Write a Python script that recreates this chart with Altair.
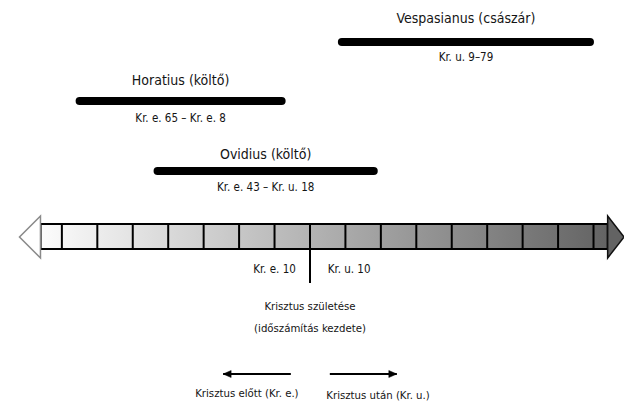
import altair as alt
import pandas as pd

# ---- data ----
people = ["Vespasianus (császár)", "Horatius (költő)", "Ovidius (költő)"]
starts = [9, -65, -43]
ends = [79, -8, 18]
date_labels = ["Kr. u. 9–79", "Kr. e. 65 – Kr. e. 8", "Kr. e. 43 – Kr. u. 18"]

axis_start = -76
axis_end = 84
arrow_tip_left = -82
arrow_tip_right = 88.6
cell_edges = list(range(-70, 81, 10))

center_labels = ["Kr. e. 10", "Kr. u. 10"]
birth_lines = ["Krisztus születése", "(időszámítás kezdete)"]
direction_labels = ["Krisztus előtt (Kr. e.)", "Krisztus után (Kr. u.)"]
direction_from = [-5.4, 5.6]
direction_to = [-24.5, 24.5]

# ---- layout (rows, in pixels from the top) ----
person_rows = [42, 101, 171]
name_rows = [19, 81, 155]
date_rows = [58, 119, 188]
bar_top, bar_bottom = 224, 249

FONT = "DejaVu Sans Condensed, Liberation Sans, Arial"
TXT = "#141414"

X = alt.Scale(domain=[-85.2, 88.6], nice=False, zero=False)
Y = alt.Scale(domain=[8, 407], reverse=True, nice=False, zero=False)


def xe(field, **kw):
    return alt.X(field, type="quantitative", scale=X, axis=None, **kw)


def ye(field, **kw):
    return alt.Y(field, type="quantitative", scale=Y, axis=None, **kw)


gradient = alt.Gradient(
    gradient="linear",
    stops=[alt.GradientStop(color="#fcfcfc", offset=0),
           alt.GradientStop(color="#636363", offset=1)],
    x1=0, x2=1, y1=0, y2=0,
)

band_df = pd.DataFrame({"a": [axis_start], "b": [axis_end], "t": [bar_top], "u": [bar_bottom]})
band = alt.Chart(band_df).mark_rect(color=gradient, stroke="black", strokeWidth=2).encode(
    x=xe("a"), x2="b", y=ye("t"), y2="u")

cells_df = pd.DataFrame({"x": cell_edges, "t": bar_top, "u": bar_bottom})
cells = alt.Chart(cells_df).mark_rule(color="black", strokeWidth=2).encode(
    x=xe("x"), y=ye("t"), y2="u")

# arrowheads of the time axis
mid_y = (bar_top + bar_bottom) / 2 + 0.5
left_head_df = pd.DataFrame({"x": [(arrow_tip_left + axis_start) / 2], "y": [mid_y]})
left_head = alt.Chart(left_head_df).mark_point(
    shape="M0.5,-1L-0.5,0L0.5,1Z", size=1764, filled=True, fill="white",
    stroke="#8a8a8a", strokeWidth=1.5, opacity=1, fillOpacity=1, strokeOpacity=1
).encode(x=xe("x"), y=ye("y"))

right_head_df = pd.DataFrame({"x": [(arrow_tip_right + axis_end) / 2], "y": [mid_y]})
right_head = alt.Chart(right_head_df).mark_point(
    shape="M-0.39,-1L0.39,0L-0.39,1Z", size=1764, filled=True, fill="#636363",
    stroke="#111111", strokeWidth=1.5, opacity=1, fillOpacity=1, strokeOpacity=1
).encode(x=xe("x"), y=ye("y"))

# center (year 0) line
zero_df = pd.DataFrame({"x": [0], "t": [bar_top], "u": [283]})
zero_line = alt.Chart(zero_df).mark_rule(color="black", strokeWidth=2).encode(
    x=xe("x"), y=ye("t"), y2="u")

# people
ppl_df = pd.DataFrame({"name": people, "s": starts, "e": ends, "d": date_labels,
                       "row": person_rows, "name_y": name_rows, "date_y": date_rows})
ppl_df["mid"] = (ppl_df["s"] + ppl_df["e"]) / 2

ppl_bars = alt.Chart(ppl_df).mark_rule(color="black", strokeWidth=8, strokeCap="round").encode(
    x=xe("s"), x2="e", y=ye("row"))
ppl_names = alt.Chart(ppl_df).mark_text(font=FONT, fontSize=14, color=TXT, baseline="middle").encode(
    x=xe("mid"), y=ye("name_y"), text="name")
ppl_dates = alt.Chart(ppl_df).mark_text(font=FONT, fontSize=11.5, color=TXT, baseline="middle").encode(
    x=xe("mid"), y=ye("date_y"), text="d")

# labels around year 0
cl_df = pd.DataFrame({"t": center_labels, "x": [-4.0, 5.0], "y": [270, 270]})
cl_left = alt.Chart(cl_df.iloc[[0]]).mark_text(font=FONT, fontSize=11.5, color=TXT, align="right", baseline="middle").encode(
    x=xe("x"), y=ye("y"), text="t")
cl_right = alt.Chart(cl_df.iloc[[1]]).mark_text(font=FONT, fontSize=11.5, color=TXT, align="left", baseline="middle").encode(
    x=xe("x"), y=ye("y"), text="t")

birth_df = pd.DataFrame({"t": birth_lines, "x": [0, 0], "y": [306.5, 328.5]})
birth = alt.Chart(birth_df).mark_text(font=FONT, fontSize=11.3, color=TXT, baseline="middle").encode(
    x=xe("x"), y=ye("y"), text="t")

# direction arrows
dir_df = pd.DataFrame({"a": direction_from, "b": direction_to, "y": [374, 374]})
dir_lines = alt.Chart(dir_df).mark_rule(color="black", strokeWidth=2).encode(
    x=xe("a"), x2="b", y=ye("y"))
dir_head_l = alt.Chart(dir_df.iloc[[0]]).mark_point(
    shape="M0,0L1.6,-0.7L1.6,0.7Z", size=100, filled=True, fill="black", stroke="black",
    strokeWidth=0.5, opacity=1).encode(x=xe("b"), y=ye("y"))
dir_head_r = alt.Chart(dir_df.iloc[[1]]).mark_point(
    shape="M0,0L-1.6,-0.7L-1.6,0.7Z", size=100, filled=True, fill="black", stroke="black",
    strokeWidth=0.5, opacity=1).encode(x=xe("b"), y=ye("y"))

dl_df = pd.DataFrame({"t": direction_labels, "x": [-17.8, 19.2], "y": [394, 396]})
dir_labels = alt.Chart(dl_df).mark_text(font=FONT, fontSize=11.3, color=TXT, baseline="middle").encode(
    x=xe("x"), y=ye("y"), text="t")

chart = alt.layer(
    band, cells, left_head, right_head, zero_line,
    ppl_bars, ppl_names, ppl_dates,
    cl_left, cl_right, birth,
    dir_lines, dir_head_l, dir_head_r, dir_labels,
).properties(
    width=616, height=399, padding=0, autosize="none", background="white"
).configure_view(stroke=None)

chart.save("out.html", embed_options={"renderer": "svg", "actions": False})
